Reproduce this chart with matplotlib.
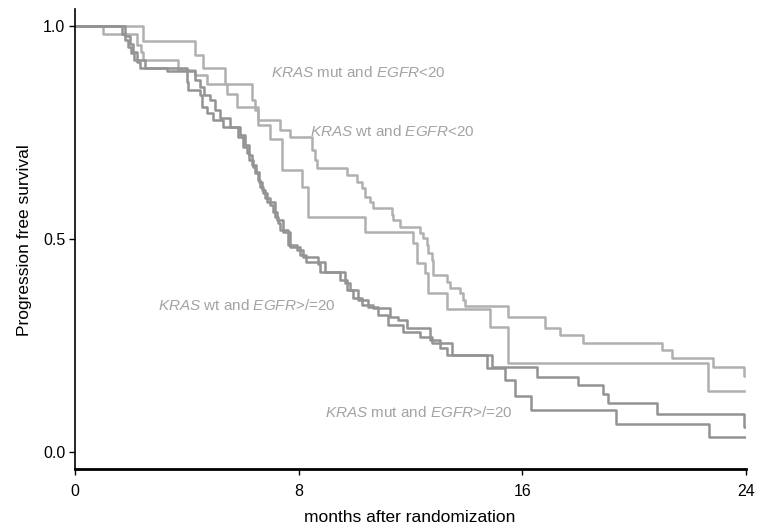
import matplotlib
matplotlib.use("Agg")
import matplotlib.pyplot as plt

plt.rcParams['font.family'] = ['Liberation Sans', 'DejaVu Sans']
plt.rcParams['mathtext.fontset'] = 'custom'
plt.rcParams['mathtext.rm'] = 'Liberation Sans'
plt.rcParams['mathtext.it'] = 'Liberation Sans:italic'

# progression free survival curves (months, survival), step after each time
t_mut_lo = [0, 2.44, 4.29, 4.58, 5.36, 6.33, 6.44, 6.55, 7.33, 7.69, 8.47, 8.58, 8.64,
            9.72, 10.08, 10.25, 10.37, 10.55, 10.66, 11.33, 11.37, 11.62, 12.34, 12.45,
            12.58, 12.63, 12.76, 12.80, 13.29, 13.41, 13.77, 13.89, 13.95, 15.47, 16.81,
            17.35, 18.18, 20.99, 21.35, 22.82, 23.93, 24]
s_mut_lo = [1.0, 0.966, 0.932, 0.901, 0.864, 0.826, 0.803, 0.779, 0.756, 0.739, 0.709, 0.685,
            0.667, 0.650, 0.634, 0.620, 0.599, 0.588, 0.573, 0.556, 0.545, 0.529, 0.514,
            0.502, 0.486, 0.467, 0.451, 0.415, 0.400, 0.385, 0.373, 0.357, 0.343, 0.318,
            0.291, 0.275, 0.257, 0.239, 0.220, 0.200, 0.178, 0.178]

t_wt_lo = [0, 1.01, 2.21, 2.36, 2.43, 3.68, 4.29, 4.71, 5.43, 5.78, 6.56, 6.97, 7.39, 8.11,
           8.34, 10.37, 12.09, 12.22, 12.52, 12.63, 13.29, 14.84, 15.47, 22.64, 24]
s_wt_lo = [1.0, 0.981, 0.955, 0.939, 0.920, 0.897, 0.885, 0.864, 0.840, 0.810, 0.768, 0.735,
           0.662, 0.623, 0.552, 0.517, 0.491, 0.444, 0.420, 0.374, 0.336, 0.294, 0.210,
           0.142, 0.142]

t_wt_hi = [0, 1.67, 1.79, 1.90, 2.00, 2.11, 2.50, 4.00, 4.04, 4.47, 4.53, 4.71, 4.94, 5.29,
           5.84, 6.01, 6.15, 6.22, 6.37, 6.44, 6.55, 6.62, 6.72, 6.87, 7.15, 7.26, 7.33,
           7.62, 7.94, 8.15, 8.69, 8.76, 9.48, 9.73, 9.94, 10.26, 10.66, 11.27, 11.55,
           11.87, 12.70, 13.05, 13.30, 14.91, 16.52, 17.99, 18.88, 19.06, 20.82, 23.93, 24]
s_wt_hi = [1.0, 0.981, 0.967, 0.951, 0.937, 0.920, 0.901, 0.869, 0.850, 0.838, 0.811, 0.796,
           0.779, 0.764, 0.740, 0.717, 0.702, 0.685, 0.669, 0.655, 0.638, 0.622, 0.608,
           0.587, 0.552, 0.538, 0.521, 0.486, 0.474, 0.458, 0.441, 0.423, 0.404, 0.380,
           0.362, 0.345, 0.338, 0.317, 0.310, 0.291, 0.263, 0.244, 0.228, 0.200, 0.176,
           0.157, 0.136, 0.115, 0.090, 0.059, 0.059]

t_mut_hi = [0, 1.79, 1.97, 2.07, 2.22, 2.32, 3.29, 4.29, 4.47, 4.61, 4.83, 5.01, 5.19, 5.54,
            5.90, 6.08, 6.22, 6.33, 6.47, 6.58, 6.69, 6.80, 6.97, 7.08, 7.22, 7.44, 7.69,
            8.05, 8.26, 8.94, 9.66, 9.84, 10.12, 10.48, 10.84, 11.19, 11.73, 12.34, 12.77,
            13.48, 14.74, 15.38, 15.74, 16.31, 19.35, 22.68, 24]
s_mut_hi = [1.0, 0.977, 0.958, 0.939, 0.915, 0.901, 0.894, 0.873, 0.857, 0.838, 0.826, 0.803,
            0.784, 0.763, 0.744, 0.721, 0.697, 0.674, 0.657, 0.634, 0.615, 0.596, 0.580,
            0.563, 0.545, 0.516, 0.481, 0.462, 0.446, 0.423, 0.397, 0.380, 0.357, 0.340,
            0.322, 0.298, 0.282, 0.270, 0.256, 0.228, 0.197, 0.169, 0.131, 0.099, 0.066,
            0.034, 0.034]

fig = plt.figure(figsize=(7.58, 5.31), dpi=100)
ax = fig.add_axes([75 / 758, 1 - 469 / 531, 671 / 758, 460 / 531])

light = '#b0b0b0'
dark = '#939393'
ax.step(t_mut_lo, s_mut_lo, where='post', color=light, lw=1.8)
ax.step(t_wt_lo, s_wt_lo, where='post', color=light, lw=1.8)
ax.step(t_wt_hi, s_wt_hi, where='post', color=dark, lw=1.8)
ax.step(t_mut_hi, s_mut_hi, where='post', color=dark, lw=1.8)

lab_col = '#a3a3a3'
ax.text(7.0, 0.89, r'$\mathit{KRAS}$ mut and $\mathit{EGFR}$<20', color=lab_col,
        fontsize=11, ha='left', va='center')
ax.text(8.40, 0.753, r'$\mathit{KRAS}$ wt and $\mathit{EGFR}$<20', color=lab_col,
        fontsize=11, ha='left', va='center')
ax.text(2.97, 0.345, r'$\mathit{KRAS}$ wt and $\mathit{EGFR}$>/=20', color=lab_col,
        fontsize=11, ha='left', va='center')
ax.text(8.94, 0.092, r'$\mathit{KRAS}$ mut and $\mathit{EGFR}$>/=20', color=lab_col,
        fontsize=11, ha='left', va='center')

ax.set_xlim(0, 24)
ax.set_ylim(-0.04, 1.04)
ax.set_xticks([0, 8, 16, 24])
ax.set_yticks([0.0, 0.5, 1.0])
ax.set_yticklabels(['0.0', '0.5', '1.0'])
ax.tick_params(axis='both', direction='out', length=4, width=1, labelsize=11.5)
ax.tick_params(axis='x', pad=7)
ax.tick_params(axis='y', pad=3)

ax.spines['top'].set_visible(False)
ax.spines['right'].set_visible(False)
ax.spines['bottom'].set_linewidth(2)
ax.spines['left'].set_linewidth(1.2)

fig.text(25 / 758, 1 - 240 / 531, 'Progression free survival', rotation=90,
         ha='center', va='center', fontsize=12.5)
fig.text(410 / 758, 1 - 517 / 531, 'months after randomization',
         ha='center', va='center', fontsize=12.5)

fig.savefig('out.png', dpi=100)
